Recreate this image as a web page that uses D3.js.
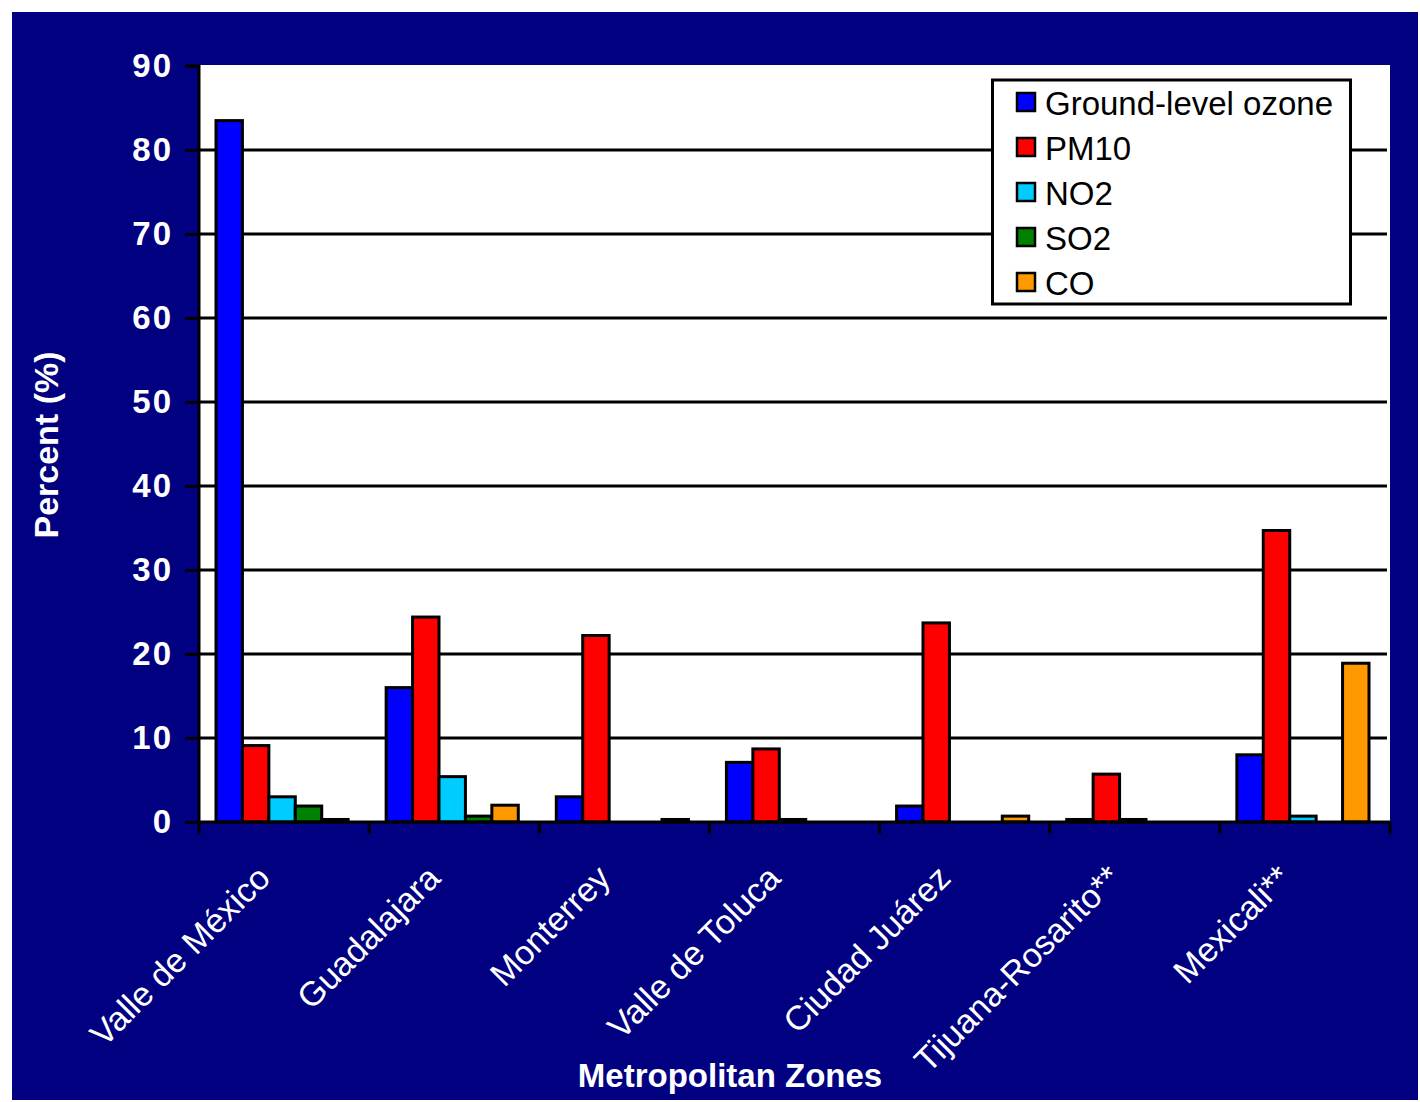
<!DOCTYPE html>
<html>
<head>
<meta charset="utf-8">
<script src="https://cdn.jsdelivr.net/npm/d3@7"></script>
<style>
  html, body { margin: 0; padding: 0; background: #ffffff; }
  svg { display: block; }
  text { font-family: "Liberation Sans", Arial, sans-serif; }
</style>
</head>
<body>
<svg id="chart" width="1420" height="1102"></svg>
<script>
// ---- data ----
const categories = ["Valle de México", "Guadalajara", "Monterrey", "Valle de Toluca", "Ciudad Juárez", "Tijuana-Rosarito**", "Mexicali**"];
const seriesNames = ["Ground-level ozone", "PM10", "NO2", "SO2", "CO"];
const ozone = [83.5, 16.0, 3.0, 7.1, 1.9, 0.3, 8.0];
const pm10  = [9.1, 24.4, 22.2, 8.7, 23.7, 5.7, 34.7];
const no2   = [3.0, 5.4, 0, 0.3, 0, 0.3, 0.7];
const so2   = [1.9, 0.7, 0, 0, 0, 0, 0];
const co    = [0.3, 2.0, 0.3, 0, 0.7, 0, 18.9];
const yTicks = [0, 10, 20, 30, 40, 50, 60, 70, 80, 90];
const colors = ["#0000ff", "#ff0000", "#00ccff", "#008000", "#ff9900"];

const seriesValues = [ozone, pm10, no2, so2, co];

// ---- layout ----
const svg = d3.select("#chart");
const plot = { left: 199, right: 1390, top: 66, bottom: 822 };

svg.append("rect").attr("x", 12).attr("y", 12).attr("width", 1406).attr("height", 1088).attr("fill", "#000080");
svg.append("rect").attr("x", plot.left).attr("y", 65).attr("width", plot.right - plot.left).attr("height", plot.bottom - 65).attr("fill", "#ffffff");

const x0 = d3.scaleBand().domain(categories).range([plot.left, plot.right]).paddingInner(0).paddingOuter(0);
const x1 = d3.scaleBand().domain(seriesNames).range([17, x0.bandwidth() - 21]).padding(0);
const y = d3.scaleLinear().domain([0, 90]).range([plot.bottom, plot.top]);

// gridlines
svg.append("g").selectAll("line").data(yTicks.filter(t => t > 0 && t < 90)).join("line")
  .attr("x1", plot.left).attr("x2", 1387)
  .attr("y1", d => y(d)).attr("y2", d => y(d))
  .attr("stroke", "#000").attr("stroke-width", 3);

// bars
const rows = [];
categories.forEach((c, i) => {
  seriesNames.forEach((s, j) => {
    const v = seriesValues[j][i];
    if (v > 0) rows.push({ c, s, v, color: colors[j] });
  });
});
svg.append("g").selectAll("rect").data(rows).join("rect")
  .attr("x", d => x0(d.c) + x1(d.s))
  .attr("width", x1.bandwidth())
  .attr("y", d => y(d.v))
  .attr("height", d => y(0) - y(d.v))
  .attr("fill", d => d.color)
  .attr("stroke", "#000").attr("stroke-width", 3);

// y axis
const yAxis = d3.axisLeft(y).tickValues(yTicks).tickSize(14).tickPadding(12).tickFormat(d3.format("d"));
const gy = svg.append("g").attr("transform", `translate(${plot.left},0)`).call(yAxis);
gy.select(".domain").attr("stroke", "#000").attr("stroke-width", 3).attr("d", `M-14,${y(90)}H0V${y(0)}`);
gy.selectAll(".tick line").attr("stroke", "#000").attr("stroke-width", 3);
gy.selectAll(".tick text").attr("fill", "#ffffff").attr("font-size", 33).attr("font-weight", "bold")
  .attr("font-family", "'Liberation Sans', Arial, sans-serif").attr("letter-spacing", 2);

// x axis
const xAxis = d3.axisBottom(x0).tickSize(0).tickFormat("");
const gx = svg.append("g").attr("transform", `translate(0,${plot.bottom})`).call(xAxis);
gx.select(".domain").attr("stroke", "#000").attr("stroke-width", 3).attr("d", `M${plot.left},0H${plot.right}`);
const bounds = categories.map(c => x0(c)).concat([x0.range()[1]]);
gx.append("g").selectAll("line").data(bounds).join("line")
  .attr("x1", d => d).attr("x2", d => d).attr("y1", 0).attr("y2", 12)
  .attr("stroke", "#000").attr("stroke-width", 3);
gx.append("g").selectAll("text").data(categories).join("text")
  .attr("transform", d => `translate(${x0(d) + x0.bandwidth() / 2 - 12},${58}) rotate(-45)`)
  .attr("text-anchor", "end")
  .attr("fill", "#ffffff").attr("font-size", 34)
  .text(d => d);

// axis titles
svg.append("text").attr("transform", `translate(58,445) rotate(-90)`)
  .attr("text-anchor", "middle").attr("fill", "#fff").attr("font-size", 34).attr("font-weight", "bold")
  .text("Percent (%)");
svg.append("text").attr("x", 730).attr("y", 1087)
  .attr("text-anchor", "middle").attr("fill", "#fff").attr("font-size", 33).attr("font-weight", "bold")
  .text("Metropolitan Zones");

// legend
const lg = svg.append("g");
lg.append("rect").attr("x", 992.5).attr("y", 80).attr("width", 358).attr("height", 224)
  .attr("fill", "#fff").attr("stroke", "#000").attr("stroke-width", 3);
const li = lg.selectAll("g.item").data(seriesNames).join("g").attr("class", "item")
  .attr("transform", (d, i) => `translate(1017,${102 + i * 45})`);
li.append("rect").attr("x", 0).attr("y", -9).attr("width", 18).attr("height", 18)
  .attr("fill", (d, i) => colors[i]).attr("stroke", "#000").attr("stroke-width", 2.5);
li.append("text").attr("x", 28).attr("y", 13).attr("font-size", 33).attr("fill", "#000").text(d => d);
</script>
</body>
</html>
